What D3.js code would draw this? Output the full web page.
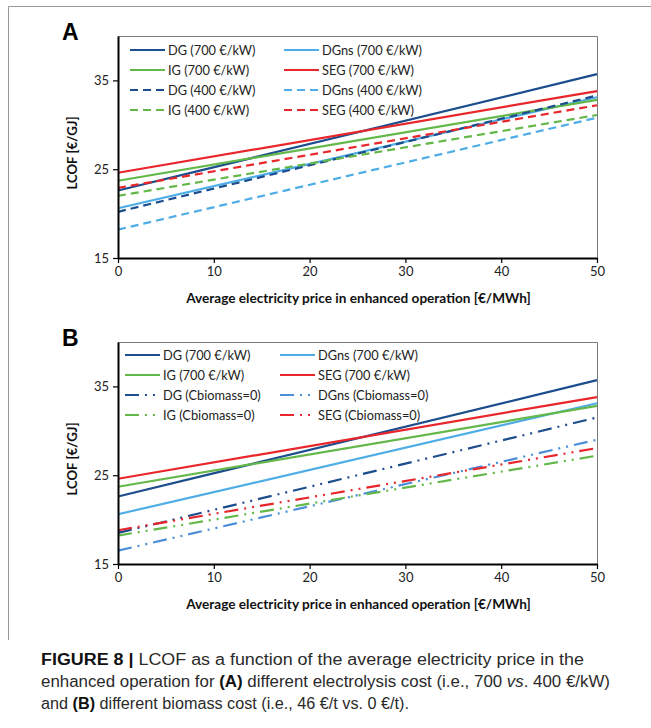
<!DOCTYPE html>
<html>
<head>
<meta charset="utf-8">
<script src="https://cdn.jsdelivr.net/npm/d3@7"></script>
<style>
  body { margin: 0; background: #fff; }
  svg { display: block; }
</style>
</head>
<body>
<div id="chart"></div>
<script>
// electricity price at the ends of every line [€/MWh]
const electricityPrice = [0, 50];
const xTicks = [0, 10, 20, 30, 40, 50];
const yTicks = [15, 25, 35];

// panel A: electrolysis cost 700 vs 400 €/kW
const namesA = ['DG (700 €/kW)', 'DGns (700 €/kW)', 'IG (700 €/kW)', 'SEG (700 €/kW)',
                'DG (400 €/kW)', 'DGns (400 €/kW)', 'IG (400 €/kW)', 'SEG (400 €/kW)'];
const lcofA = [[22.6, 35.7], [20.6, 33.1], [23.7, 32.8], [24.6, 33.8],
               [20.2, 33.3], [18.2, 30.8], [22.0, 31.1], [22.9, 32.2]];

// panel B: biomass cost 46 vs 0 €/t
const namesB = ['DG (700 €/kW)', 'DGns (700 €/kW)', 'IG (700 €/kW)', 'SEG (700 €/kW)',
                'DG (Cbiomass=0)', 'DGns (Cbiomass=0)', 'IG (Cbiomass=0)', 'SEG (Cbiomass=0)'];
const lcofB = [[22.6, 35.7], [20.6, 33.1], [23.7, 32.8], [24.6, 33.8],
               [18.5, 31.5], [16.5, 29.0], [18.2, 27.2], [18.8, 28.05]];

const colorsA = ['#1c4d8c', '#4eade6', '#64b84a', '#e8262b', '#1c4d8c', '#4eade6', '#64b84a', '#e8262b'];
const colorsB = ['#1c4d8c', '#4eade6', '#64b84a', '#e8262b', '#1c4d8c', '#4a8fd8', '#64b84a', '#e8262b'];
const dashA = ['', '', '', '', '8,5', '8,5', '8,5', '8,5'];
const dashB = ['', '', '', '', '14,6,2,6,2,6', '14,6,2,6,2,6', '14,6,2,6,2,6', '14,6,2,6,2,6'];

const W = 651, H = 728;
const svg = d3.select('#chart').append('svg').attr('width', W).attr('height', H);

// outer frame (left + top only)
svg.append('path')
  .attr('d', 'M8.5,640 V6.5 H651')
  .attr('fill', 'none').attr('stroke', '#9a9a9a').attr('stroke-width', 1);

function drawPanel(cfg){
  const g = svg.append('g');
  const x = d3.scaleLinear().domain([0, 50]).range([cfg.left, cfg.right]);
  const y = d3.scaleLinear().domain([15, 40]).range([cfg.bottom, cfg.top]);

  // plot border top/right
  g.append('path')
    .attr('d', `M${cfg.left},${cfg.top + 0.5} H${cfg.right + 0.5} V${cfg.bottom}`)
    .attr('fill', 'none').attr('stroke', '#7a7a7a').attr('stroke-width', 1);

  // lines
  const line = d3.line().x(d => x(d[0])).y(d => y(d[1]));
  cfg.values.forEach((v, i) => {
    g.append('path')
      .datum(electricityPrice.map((p, j) => [p, v[j]]))
      .attr('d', line)
      .attr('fill', 'none')
      .attr('stroke', cfg.colors[i])
      .attr('stroke-width', 2.2)
      .attr('stroke-dasharray', cfg.dash[i] || null);
  });

  // axes
  const xAxis = g.append('g').attr('transform', `translate(0,${cfg.bottom})`)
    .call(d3.axisBottom(x).tickValues(xTicks).tickSize(5).tickSizeOuter(0).tickPadding(4));
  const yAxis = g.append('g').attr('transform', `translate(${cfg.left},0)`)
    .call(d3.axisLeft(y).tickValues(yTicks).tickSize(5).tickSizeOuter(0).tickPadding(4));
  [xAxis, yAxis].forEach(a => {
    a.select('.domain').attr('stroke', '#000').attr('stroke-width', 2);
    a.selectAll('.tick line').attr('stroke', '#000').attr('stroke-width', 1.2);
    a.selectAll('.tick text').attr('font-family', 'Lato, sans-serif').attr('font-size', 13).attr('fill', '#222');
  });

  // axis titles
  g.append('text')
    .attr('x', (cfg.left + cfg.right) / 2 + 1).attr('y', cfg.bottom + 45)
    .attr('text-anchor', 'middle')
    .attr('font-family', 'Lato, sans-serif').attr('font-weight', 'bold').attr('font-size', 13.6)
    .attr('fill', '#111')
    .text('Average electricity price in enhanced operation [€/MWh]');
  g.append('text')
    .attr('transform', `translate(${cfg.left - 41},${(cfg.top + cfg.bottom) / 2 + 6}) rotate(-90)`)
    .attr('text-anchor', 'middle')
    .attr('font-family', 'Lato, sans-serif').attr('font-weight', 'bold').attr('font-size', 13.2)
    .attr('fill', '#111')
    .text('LCOF [€/GJ]');

  // panel letter
  g.append('text')
    .attr('x', 62).attr('y', cfg.top + 4)
    .attr('font-family', 'Liberation Sans, Arial, sans-serif').attr('font-weight', 'bold')
    .attr('font-size', 23).attr('fill', '#000')
    .text(cfg.letter);

  // legend, two columns
  const leg = g.selectAll('.leg').data(cfg.names).enter().append('g').attr('class', 'leg')
    .attr('transform', (d, i) => {
      const col = i % 2, row = Math.floor(i / 2);
      return `translate(${cfg.legX[col]},${cfg.top + cfg.legY + row * 20})`;
    });
  leg.append('line')
    .attr('x1', 0).attr('x2', cfg.legLen).attr('y1', 0).attr('y2', 0)
    .attr('stroke', (d, i) => cfg.colors[i])
    .attr('stroke-width', 2.2)
    .attr('stroke-dasharray', (d, i) => cfg.dash[i] || null);
  leg.append('text')
    .attr('x', cfg.legLen + 3).attr('y', 4.5)
    .attr('font-family', 'Lato, sans-serif').attr('font-size', 12.8).attr('fill', '#222')
    .text(d => d);
}

drawPanel({letter: 'A', left: 118, right: 597, top: 36, bottom: 258,
  names: namesA, values: lcofA, colors: colorsA, dash: dashA,
  legX: [130, 284], legY: 14, legLen: 35});
drawPanel({letter: 'B', left: 118, right: 597, top: 342, bottom: 564,
  names: namesB, values: lcofB, colors: colorsB, dash: dashB,
  legX: [125, 280], legY: 13, legLen: 35});

// caption
const cap = svg.append('g')
  .attr('font-family', 'Liberation Sans, Arial, sans-serif').attr('font-size', 16).attr('fill', '#2a2a2a');
const l1 = cap.append('text').attr('x', 41).attr('y', 665).attr('textLength', 543).attr('lengthAdjust', 'spacingAndGlyphs');
l1.append('tspan').attr('font-weight', 'bold').attr('fill', '#111').text('FIGURE 8 | ');
l1.append('tspan').text('LCOF as a function of the average electricity price in the');
const l2 = cap.append('text').attr('x', 41).attr('y', 687).attr('textLength', 569).attr('lengthAdjust', 'spacingAndGlyphs');
l2.append('tspan').text('enhanced operation for ');
l2.append('tspan').attr('font-weight', 'bold').attr('fill', '#111').text('(A)');
l2.append('tspan').text(' different electrolysis cost (i.e., 700 ');
l2.append('tspan').attr('font-style', 'italic').text('vs');
l2.append('tspan').text('. 400 €/kW)');
const l3 = cap.append('text').attr('x', 41).attr('y', 709).attr('textLength', 368).attr('lengthAdjust', 'spacingAndGlyphs');
l3.append('tspan').text('and ');
l3.append('tspan').attr('font-weight', 'bold').attr('fill', '#111').text('(B)');
l3.append('tspan').text(' different biomass cost (i.e., 46 €/t vs. 0 €/t).');
</script>
</body>
</html>
